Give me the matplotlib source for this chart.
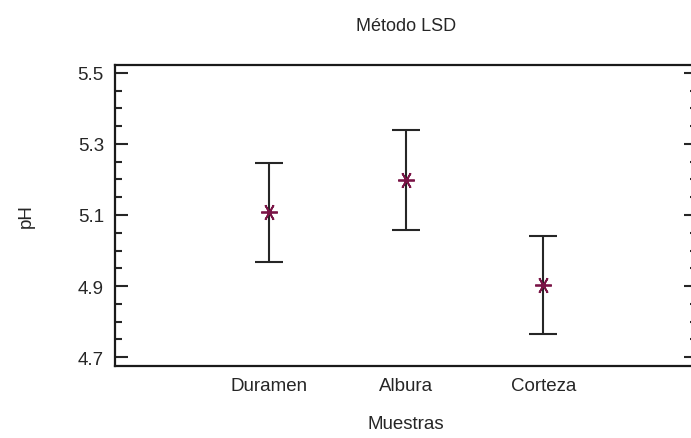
import numpy as np
import matplotlib.pyplot as plt
from matplotlib.ticker import MultipleLocator

# Datos
muestras = ['Duramen', 'Albura', 'Corteza']
medias = [5.108, 5.198, 4.902]
lim_inf = [4.968, 5.057, 4.764]
lim_sup = [5.247, 5.338, 5.041]
y_ticks = [4.7, 4.9, 5.1, 5.3, 5.5]

plt.rcParams['font.family'] = ['Liberation Sans', 'DejaVu Sans']

fig = plt.figure(figsize=(6.91, 4.39), dpi=100)
ax = fig.add_axes([115 / 691, 1 - 367 / 439, 582 / 691, 301 / 439])

x = np.arange(1, len(muestras) + 1)
medias = np.array(medias)
yerr = [medias - np.array(lim_inf), np.array(lim_sup) - medias]

ax.errorbar(x, medias, yerr=yerr, fmt='none', ecolor='#262626',
            elinewidth=1.5, capsize=10, capthick=1.5)
ax.plot(x, medias, linestyle='none', marker=(6, 2, 90), markersize=12,
        markeredgewidth=1.3, color='#7a1446')

ax.set_xlim(-0.12, 4.12)
ax.set_ylim(4.675, 5.522)
ax.set_xticks(x)
ax.set_xticklabels(muestras)
ax.set_yticks(y_ticks)
ax.yaxis.set_minor_locator(MultipleLocator(0.05))
ax.yaxis.set_major_formatter(plt.FormatStrFormatter('%.1f'))

ax.tick_params(axis='x', length=0, pad=8, labelsize=13.5, colors='#262626')
ax.tick_params(axis='y', which='major', direction='in', length=9.5, width=1.5,
               pad=8, labelsize=13.5, colors='#262626', right=True)
ax.tick_params(axis='y', which='minor', direction='in', length=5, width=1.5,
               colors='#262626', right=True)

for s in ax.spines.values():
    s.set_linewidth(1.6)
    s.set_color('#1a1a1a')

ax.set_xlabel('Muestras', fontsize=13.5, color='#262626', labelpad=15)
ax.set_ylabel('pH', fontsize=13.5, color='#262626', labelpad=31)
ax.set_title('Método LSD', fontsize=13, color='#262626', pad=25)

fig.savefig('out.png', dpi=100)
